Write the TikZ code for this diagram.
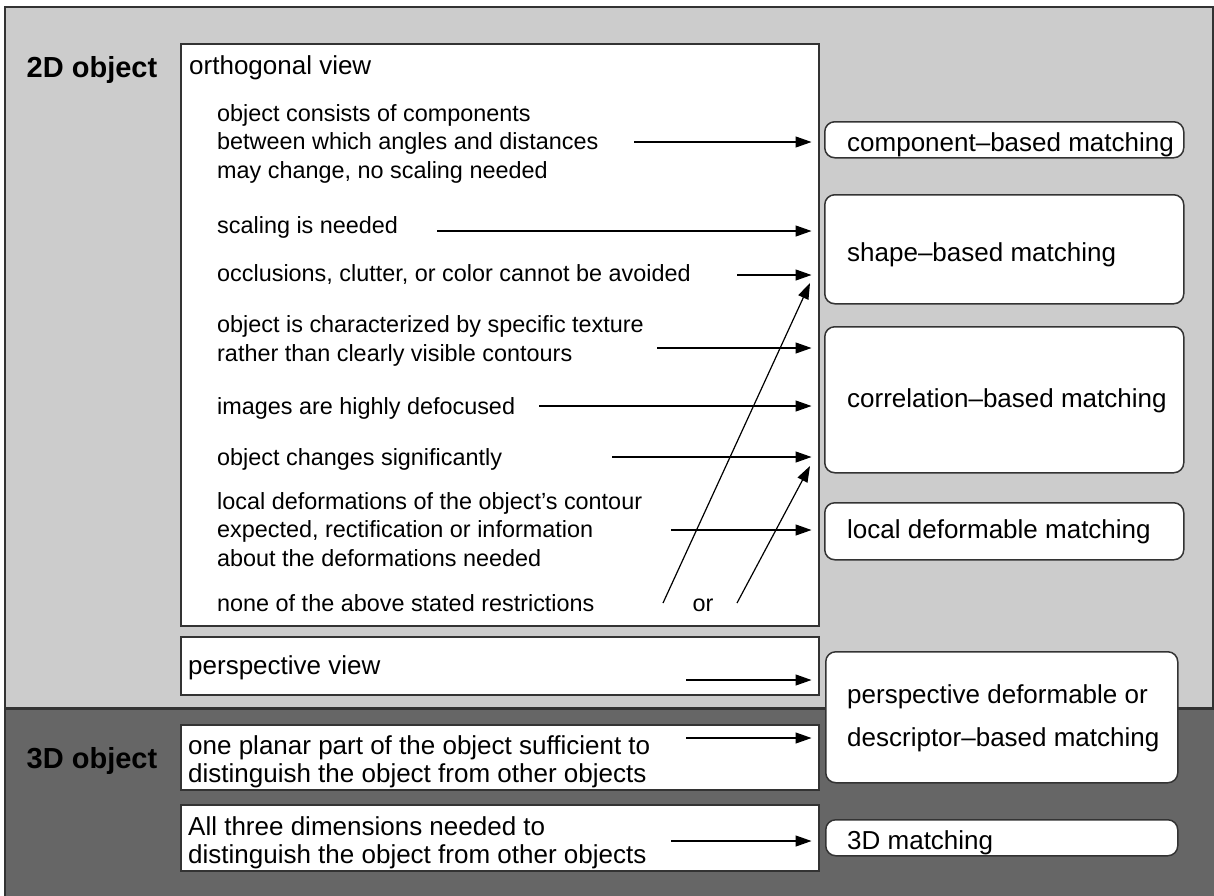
\documentclass[tikz,border=0pt]{standalone}
\usepackage{fontspec}
\setmainfont{Liberation Sans}
\usetikzlibrary{arrows.meta}
\definecolor{lightbg}{HTML}{CCCCCC}
\definecolor{darkbg}{HTML}{666666}
\definecolor{edge}{HTML}{333333}

\begin{document}
\begin{tikzpicture}[x=1pt,y=-1pt,
  region/.style={draw=edge, line width=1.5pt, anchor=north west, inner sep=0},
  leftbox/.style={draw=edge, fill=white, line width=1.5pt, anchor=north west, inner sep=0, minimum width=638pt},
  resbox/.style={draw=edge, fill=white, line width=1.5pt, rounded corners=10pt, anchor=north west, inner sep=0},
  % multi-line texts are placed by the baseline of their last line
  body/.style={anchor=base west, inner sep=0, align=left, font=\fontsize{23.4}{28.5}\selectfont},
  head/.style={anchor=base west, inner sep=0, align=left, font=\fontsize{26}{28}\selectfont},
  restext/.style={anchor=base west, inner sep=0, align=left, font=\fontsize{26}{43}\selectfont},
  kind/.style={anchor=base, inner sep=0, font=\bfseries\fontsize{29}{34}\selectfont},
  arr/.style={draw=black, line width=1.2pt, -{Triangle[length=16pt,width=11pt]}}
]
\useasboundingbox (0,0) rectangle (1214,895);

% two background regions
\node[region, fill=lightbg, minimum width=1208pt, minimum height=701pt] (twod) at (4,6) {};
\node[region, fill=darkbg, minimum width=1214pt, minimum height=190pt] (threed) at (4,708) {};

\node[kind] (l2d) at (92,77) {2D object};
\node[kind] (l3d) at (92,768) {3D object};

% left column: conditions
\node[leftbox, minimum height=582pt] (ortho) at (180,43) {};
\node[head] (orthot) at (189,74) {orthogonal view};
\node[body] (c1) at (217,178) {object consists of components\\between which angles and distances\\may change, no scaling needed};
\node[body] (c2) at (217,233) {scaling is needed};
\node[body] (c3) at (217,281) {occlusions, clutter, or color cannot be avoided};
\node[body] (c4) at (217,361) {object is characterized by specific texture\\rather than clearly visible contours};
\node[body] (c5) at (217,414) {images are highly defocused};
\node[body] (c6) at (217,465) {object changes significantly};
\node[body] (c7) at (217,566) {local deformations of the object’s contour\\expected, rectification or information\\about the deformations needed};
\node[body] (c8) at (217,611) {none of the above stated restrictions};
\node[body, anchor=base] (ortxt) at (703,611) {or};

\node[leftbox, minimum height=58pt] (persp) at (180,636) {};
\node[head] (perspt) at (188,674) {perspective view};

\node[leftbox, minimum height=65pt] (planar) at (180,724) {};
\node[head] (planart) at (188,782) {one planar part of the object sufficient to\\distinguish the object from other objects};

\node[leftbox, minimum height=66pt] (full) at (180,804) {};
\node[head] (fullt) at (188,863) {All three dimensions needed to\\distinguish the object from other objects};

% right column: matching methods
\node[resbox, minimum width=359pt, minimum height=36pt] (rcomp) at (824,121) {};
\node[restext] (rcompt) at (847,151) {component\textendash based matching};
\node[resbox, minimum width=359pt, minimum height=109pt] (rshape) at (824,194) {};
\node[restext] (rshapet) at (847,261) {shape\textendash based matching};
\node[resbox, minimum width=359pt, minimum height=146pt] (rcorr) at (824,326) {};
\node[restext] (rcorrt) at (847,407) {correlation\textendash based matching};
\node[resbox, minimum width=359pt, minimum height=57pt] (rlocal) at (824,502) {};
\node[restext] (rlocalt) at (847,538) {local deformable matching};
\node[resbox, minimum width=352pt, minimum height=131pt] (rpersp) at (825,651) {};
\node[restext] (rperspt) at (847,746) {perspective deformable or\\descriptor\textendash based matching};
\node[resbox, minimum width=352pt, minimum height=36pt] (r3d) at (825,819) {};
\node[restext] (r3dt) at (847,849) {3D matching};

% arrow start points
\coordinate (s1) at (634,142);
\coordinate (s2) at (437,231);
\coordinate (s3) at (737,275);
\coordinate (s4) at (657,348);
\coordinate (s5) at (539,406);
\coordinate (s6) at (612,457);
\coordinate (s7) at (671,530);
\coordinate (s8) at (686,680);
\coordinate (s9) at (686,738);
\coordinate (s10) at (671,841);
\coordinate (d1) at (663,603);
\coordinate (d1e) at (810,283);
\coordinate (d2) at (737,603);
\coordinate (d2e) at (810,466);

\foreach \s in {s1,s2,s3,s4,s5,s6,s7}
  \draw[arr, shorten >=8pt] (\s) -- (\s -| ortho.east);
\draw[arr, shorten >=8pt] (s8) -- (s8 -| persp.east);
\draw[arr, shorten >=8pt] (s9) -- (s9 -| planar.east);
\draw[arr, shorten >=8pt] (s10) -- (s10 -| full.east);
\draw[arr] (d1) -- (d1e);
\draw[arr] (d2) -- (d2e);
\end{tikzpicture}
\end{document}
